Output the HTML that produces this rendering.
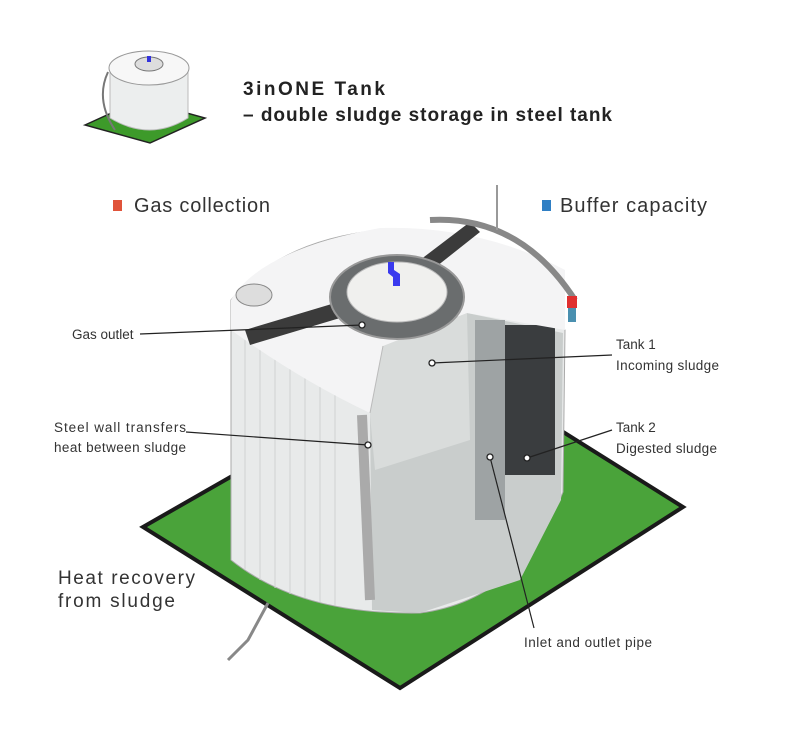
<!DOCTYPE html>
<html><head><meta charset="utf-8"><style>
body{margin:0;background:#fff;}
svg{display:block;font-family:"Liberation Sans",sans-serif;}
</style></head><body>
<svg width="793" height="737" viewBox="0 0 793 737" xmlns="http://www.w3.org/2000/svg">
<rect width="793" height="737" fill="#fff"/>
<!-- thumbnail -->
<polygon points="85,125 140,100 205,118 150,143" fill="#3d9a2a" stroke="#222" stroke-width="1.5"/>
<path d="M110,70 L110,118 Q150,142 188,118 L188,70 Z" fill="#eceeee" stroke="#bbb"/>
<ellipse cx="149" cy="68" rx="40" ry="17" fill="#f7f7f7" stroke="#999"/>
<ellipse cx="149" cy="64" rx="14" ry="7" fill="#ddd" stroke="#777"/>
<rect x="147" y="56" width="4" height="6" fill="#33d"/>
<path d="M108,72 Q95,100 115,130" stroke="#777" stroke-width="2" fill="none"/>
<text x="243" y="95" font-size="19" font-weight="bold" fill="#222" textLength="142">3inONE Tank</text>
<text x="243" y="121" font-size="19" font-weight="bold" fill="#222" textLength="369">– double sludge storage in steel tank</text>
<rect x="113" y="200" width="9" height="11" fill="#e0533a"/>
<text x="134" y="212" font-size="20" fill="#333" textLength="136">Gas collection</text>
<rect x="542" y="200" width="9" height="11" fill="#2f7fc4"/>
<text x="560" y="212" font-size="20" fill="#333" textLength="147">Buffer capacity</text>
<!-- ground -->
<polygon points="143,527 330,420 560,430 683,507 400,688" fill="#4aa33a" stroke="#1a1a1a" stroke-width="4"/>
<!-- tank body -->
<path d="M231,300 L231,560 Q300,615 420,613 Q520,600 563,492 L565,330 Q470,240 380,230 Q280,240 231,300 Z" fill="#e8eaea" stroke="#aaa"/>
<g stroke="#cfd2d2" stroke-width="1">
<line x1="245" y1="320" x2="245" y2="570"/><line x1="260" y1="330" x2="260" y2="580"/><line x1="275" y1="335" x2="275" y2="588"/><line x1="290" y1="340" x2="290" y2="594"/><line x1="305" y1="345" x2="305" y2="598"/><line x1="320" y1="348" x2="320" y2="602"/><line x1="335" y1="350" x2="335" y2="605"/>
</g>
<!-- cutaway interior -->
<polygon points="383,346 467,313 563,333 561,500 520,580 420,613 372,610 370,415" fill="#c9cdcc"/>
<polygon points="383,346 467,313 470,440 375,470 370,415" fill="#d9dcdb"/>
<rect x="505" y="325" width="50" height="150" fill="#3a3d3f"/>
<rect x="475" y="320" width="30" height="200" fill="#9ea3a4"/>
<line x1="362" y1="415" x2="370" y2="600" stroke="#aaa" stroke-width="10"/>
<!-- roof -->
<path d="M231,300 Q260,250 380,228 Q480,225 565,270 L565,330 L467,313 L383,346 L370,413 Q300,380 231,330 Z" fill="#f4f4f5"/>
<path d="M383,346 L370,413" stroke="#bbb"/>
<polygon points="245,330 345,300 350,315 250,345" fill="#3b3b3b"/>
<polygon points="420,260 470,222 480,232 432,270" fill="#3b3b3b"/>
<path d="M430,220 Q520,215 575,300" stroke="#888" stroke-width="6" fill="none"/>
<ellipse cx="397" cy="297" rx="67" ry="42" fill="#6a6d6e" stroke="#999" stroke-width="2"/>
<ellipse cx="397" cy="292" rx="50" ry="30" fill="#f0f0ee" stroke="#bbb"/>
<path d="M388,262 l6,0 l0,8 l6,4 l0,12 l-7,0 l0,-9 l-5,-4 z" fill="#3a3aee"/>
<ellipse cx="254" cy="295" rx="18" ry="11" fill="#ddd" stroke="#888"/>
<rect x="567" y="296" width="10" height="12" fill="#e03030"/>
<rect x="568" y="308" width="8" height="14" fill="#4a90b0"/>
<line x1="497" y1="185" x2="497" y2="230" stroke="#999" stroke-width="2"/>
<path d="M268,603 L248,640 L228,660" stroke="#888" stroke-width="3" fill="none"/>
<g stroke="#222" stroke-width="1.2" fill="none">
<line x1="140" y1="334" x2="362" y2="325"/>
<line x1="432" y1="363" x2="612" y2="355"/>
<line x1="186" y1="432" x2="368" y2="445"/>
<line x1="527" y1="458" x2="612" y2="430"/>
<line x1="490" y1="457" x2="534" y2="628"/>
</g>
<g fill="#fff" stroke="#222" stroke-width="1.3">
<circle cx="432" cy="363" r="3"/><circle cx="368" cy="445" r="3"/><circle cx="527" cy="458" r="3"/><circle cx="490" cy="457" r="3"/><circle cx="362" cy="325" r="3"/>
</g>
<g font-size="13.5" fill="#333">
<text x="72" y="339">Gas outlet</text>
<text x="616" y="349">Tank 1</text>
<text x="616" y="370" textLength="103">Incoming sludge</text>
<text x="54" y="432" textLength="132">Steel wall transfers</text>
<text x="54" y="452" textLength="132">heat between sludge</text>
<text x="616" y="432">Tank 2</text>
<text x="616" y="453" textLength="101">Digested sludge</text>
<text x="524" y="647" textLength="128">Inlet and outlet pipe</text>
</g>
<text x="58" y="584" font-size="19" fill="#333" textLength="137">Heat recovery</text>
<text x="58" y="607" font-size="19" fill="#333" textLength="117">from sludge</text>
</svg>
</body></html>
